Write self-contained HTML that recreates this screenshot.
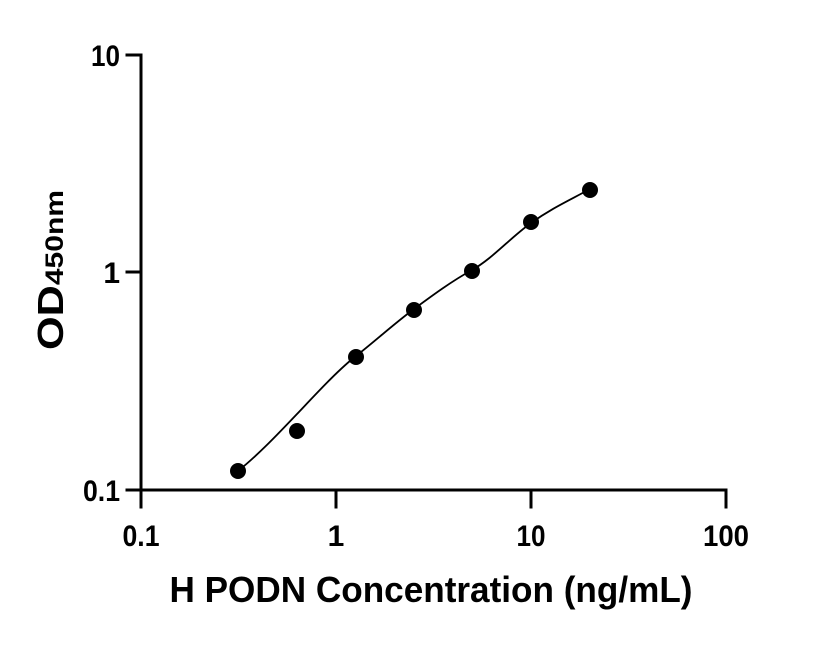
<!DOCTYPE html>
<html><head><style>html,body{margin:0;padding:0;background:#fff}</style></head>
<body>
<svg width="816" height="640" viewBox="0 0 816 640" xmlns="http://www.w3.org/2000/svg" font-family="Liberation Sans, Arial, sans-serif" font-weight="bold">
<rect width="816" height="640" fill="#fff"/>
<g stroke="#000" stroke-width="3" fill="none" stroke-linecap="square">
<line x1="141" y1="55" x2="141" y2="490"/>
<line x1="141" y1="490" x2="726" y2="490"/>
<line x1="127" y1="55" x2="141" y2="55"/>
<line x1="127" y1="272" x2="141" y2="272"/>
<line x1="127" y1="490" x2="141" y2="490"/>
<line x1="141" y1="490" x2="141" y2="507"/>
<line x1="336" y1="490" x2="336" y2="507"/>
<line x1="531" y1="490" x2="531" y2="507"/>
<line x1="726" y1="490" x2="726" y2="507"/>
</g>
<g font-size="30" text-anchor="end">
<text x="120" y="66" textLength="29" lengthAdjust="spacingAndGlyphs">10</text>
<text x="120" y="283">1</text>
<text x="120" y="501" textLength="37" lengthAdjust="spacingAndGlyphs">0.1</text>
</g>
<g font-size="30" text-anchor="middle">
<text x="141" y="546" textLength="37" lengthAdjust="spacingAndGlyphs">0.1</text>
<text x="336" y="546">1</text>
<text x="531" y="546" textLength="29" lengthAdjust="spacingAndGlyphs">10</text>
<text x="726" y="546" textLength="46" lengthAdjust="spacingAndGlyphs">100</text>
</g>
<text x="431" y="602" font-size="36" text-anchor="middle" textLength="523" lengthAdjust="spacingAndGlyphs">H PODN Concentration (ng/mL)</text>
<text transform="translate(63,350) rotate(-90)" font-size="36" textLength="160" lengthAdjust="spacingAndGlyphs"><tspan>OD</tspan><tspan font-size="25">450nm</tspan></text>
<path d="M238,471 C258,455 278,434 297,414 S338,370 356,356 S395,323 414,309 S452,281 472,270 S510,238 531,223 S570,200 590,189" stroke="#000" stroke-width="1.8" fill="none"/>
<g fill="#000">
<circle cx="238" cy="471" r="8"/>
<circle cx="297" cy="431" r="8"/>
<circle cx="356" cy="357" r="8"/>
<circle cx="414" cy="310" r="8"/>
<circle cx="472" cy="271" r="8"/>
<circle cx="531" cy="222" r="8"/>
<circle cx="590" cy="190" r="8"/>
</g>
</svg>
</body></html>
